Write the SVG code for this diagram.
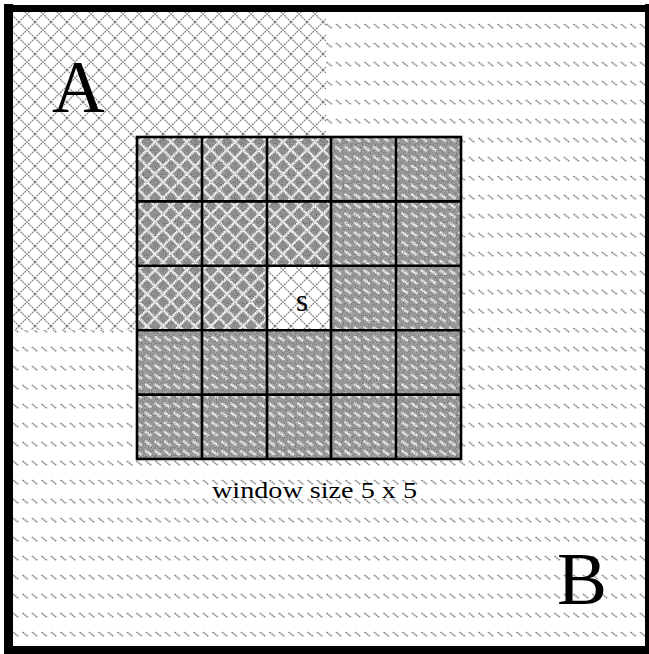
<svg xmlns="http://www.w3.org/2000/svg" width="649" height="654" viewBox="0 0 649 654">
<style>
.serif{font-family:"Liberation Serif","Times New Roman",serif;fill:#000}
.gl{stroke:#000;stroke-width:2.6;fill:none}
</style>
<defs>
<pattern id="cross" width="16" height="16" patternUnits="userSpaceOnUse" x="3" y="6">
<rect width="16" height="16" fill="#fff"/>
<path d="M0,0 L16,16 M16,0 L0,16" stroke="#7a7a7a" stroke-width="1.2" stroke-dasharray="1.8 0.8"/>
</pattern>
<pattern id="hatch" width="9.5" height="19" patternUnits="userSpaceOnUse" x="2" y="2">
<rect width="9.5" height="19" fill="#fff"/>
<path d="M1.5,3 L7,7.5" stroke="#7a7a7a" stroke-width="1.4" stroke-dasharray="1.8 0.7"/>
</pattern>
<pattern id="cellA" width="16" height="16" patternUnits="userSpaceOnUse" x="3" y="6">
<rect width="16" height="16" fill="#989898"/>
<path d="M0,0 L16,16 M16,0 L0,16" stroke="#f0f0f0" stroke-width="2.6"/>
</pattern>
<pattern id="cellB" width="9.5" height="9.5" patternUnits="userSpaceOnUse" x="2" y="2">
<rect width="9.5" height="9.5" fill="#a0a0a0"/>
<path d="M0.5,2 L7,6.5" stroke="#f0f0f0" stroke-width="2.4"/>
</pattern>
<filter id="noise" x="0" y="0" width="1" height="1">
<feTurbulence type="fractalNoise" baseFrequency="0.85" numOctaves="1" seed="3" result="n"/>
<feColorMatrix in="n" type="matrix" values="0 0 0 0 0  0 0 0 0 0  0 0 0 0 0  1.0 0 0 0 -0.45"/>
</filter>
</defs>

<g id="regions">
<rect id="regionB" x="12" y="12" width="636" height="635" fill="url(#hatch)"/>
<rect id="regionA" x="12" y="12" width="314" height="318" fill="url(#cross)"/>
</g>

<g id="window">
<rect x="137" y="137" width="194" height="193.2" fill="url(#cellA)"/>
<rect x="331" y="137" width="130" height="193.2" fill="url(#cellB)"/>
<rect x="137" y="330.2" width="324" height="128.8" fill="url(#cellB)"/>
<rect x="137" y="137" width="324" height="322" filter="url(#noise)"/>
<g id="center-cell">
<rect x="267" y="265.8" width="64" height="64.4" fill="url(#cross)"/>
<text class="serif" x="302" y="311" font-size="31" text-anchor="middle">s</text>
</g>
<g id="grid-lines" class="gl">
<rect x="137" y="137" width="324" height="322"/>
<path d="M202,137 V459 M267,137 V459 M331,137 V459 M396,137 V459 M137,201.4 H461 M137,265.8 H461 M137,330.2 H461 M137,394.6 H461"/>
</g>
</g>

<g id="labels">
<text class="serif" x="52" y="112" font-size="73">A</text>
<text class="serif" x="557" y="604" font-size="75">B</text>
<text class="serif" x="212" y="498" font-size="23" textLength="205" lengthAdjust="spacingAndGlyphs">window size 5 x 5</text>
</g>

<g id="frame" fill="#000">
<rect x="4" y="4" width="9" height="650"/>
<rect x="4" y="5" width="645" height="7"/>
<rect x="4" y="646" width="645" height="8"/>
<rect x="645" y="4" width="4" height="650"/>
</g>
</svg>
